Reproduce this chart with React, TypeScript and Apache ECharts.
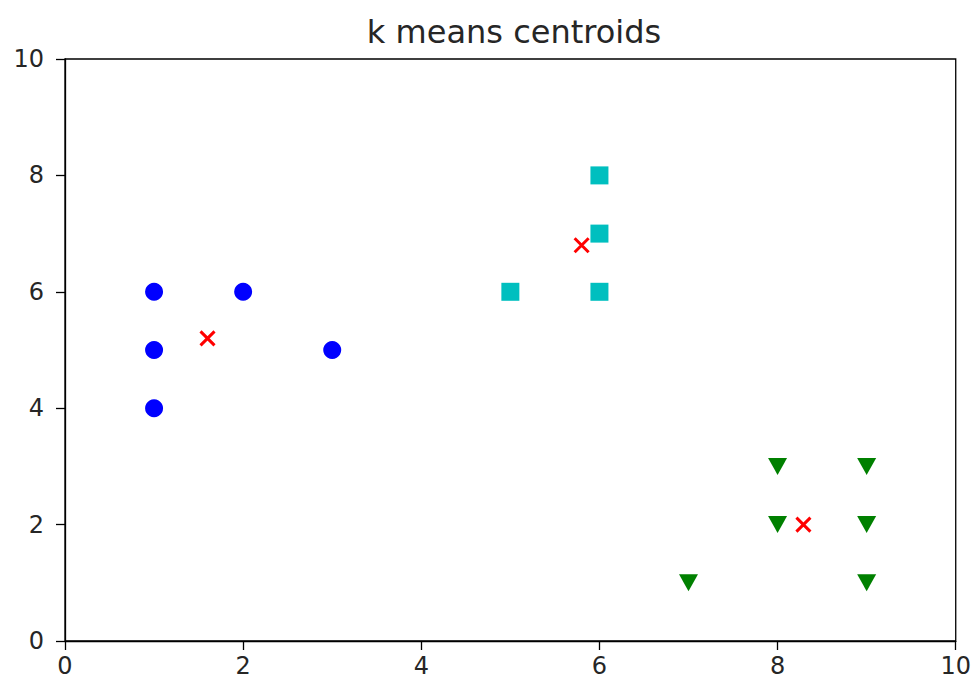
import React, { useEffect, useRef } from "react";
import * as echarts from "echarts";

const titleText = "k means centroids";
const xTicks = [0, 2, 4, 6, 8, 10];
const yTicks = [0, 2, 4, 6, 8, 10];
const clusterBlue: [number, number][] = [[1, 6], [1, 5], [1, 4], [2, 6], [3, 5]];
const clusterCyan: [number, number][] = [[5, 6], [6, 8], [6, 7], [6, 6]];
const clusterGreen: [number, number][] = [[7, 1], [8, 2], [8, 3], [9, 1], [9, 2], [9, 3]];
const centroids: [number, number][] = [[1.6, 5.2], [5.8, 6.8], [8.29, 2]];

export default function App() {
  const ref = useRef<HTMLDivElement>(null);
  useEffect(() => {
    if (!ref.current) return;
    const chart = echarts.init(ref.current, null, { renderer: "svg" });
    const font = "DejaVu Sans";
    const axisCommon = {
      min: 0,
      max: 10,
      interval: 2,
      axisLine: { show: true, lineStyle: { color: "#000", width: 1.3 } },
      axisTick: { show: true, inside: false, length: 9, lineStyle: { color: "#000", width: 1.3 } },
      splitLine: { show: false },
    };
    const labelBase = { color: "#262626", fontSize: 24, fontFamily: font };
    chart.setOption({
      animation: false,
      backgroundColor: "#fff",
      title: {
        text: titleText,
        left: 509,
        top: 11,
        textAlign: "center",
        textStyle: { fontFamily: font, fontSize: 32, fontWeight: "normal", color: "#262626" },
      },
      grid: {
        left: 65,
        right: 13,
        top: 59,
        bottom: 41,
        show: true,
        borderColor: "#000",
        borderWidth: 1.3,
        containLabel: false,
      },
      xAxis: {
        type: "value",
        ...axisCommon,
        axisLabel: { ...labelBase, margin: 13, formatter: (v: number) => (xTicks.includes(v) ? String(v) : "") },
      },
      yAxis: {
        type: "value",
        ...axisCommon,
        axisLabel: { ...labelBase, margin: 21, formatter: (v: number) => (yTicks.includes(v) ? String(v) : "") },
      },
      series: [
        {
          type: "scatter",
          data: clusterBlue,
          symbol: "circle",
          symbolSize: 18,
          itemStyle: { color: "#0000ff", opacity: 1 },
        },
        {
          type: "scatter",
          data: clusterCyan,
          symbol: "rect",
          symbolSize: 18,
          itemStyle: { color: "#00bfbf", opacity: 1 },
        },
        {
          type: "scatter",
          data: clusterGreen,
          symbol: "triangle",
          symbolRotate: 180,
          symbolSize: [19, 17],
          itemStyle: { color: "#008000", opacity: 1 },
        },
        {
          type: "scatter",
          data: centroids,
          symbol: "path://M0 0L10 10M10 0L0 10",
          symbolSize: 14,
          itemStyle: { color: "none", borderColor: "#ff0000", borderWidth: 3, opacity: 1 },
        },
      ],
    });
    return () => chart.dispose();
  }, []);
  return <div ref={ref} style={{ width: 974, height: 682, position: "absolute", left: 0, top: 0 }} />;
}
